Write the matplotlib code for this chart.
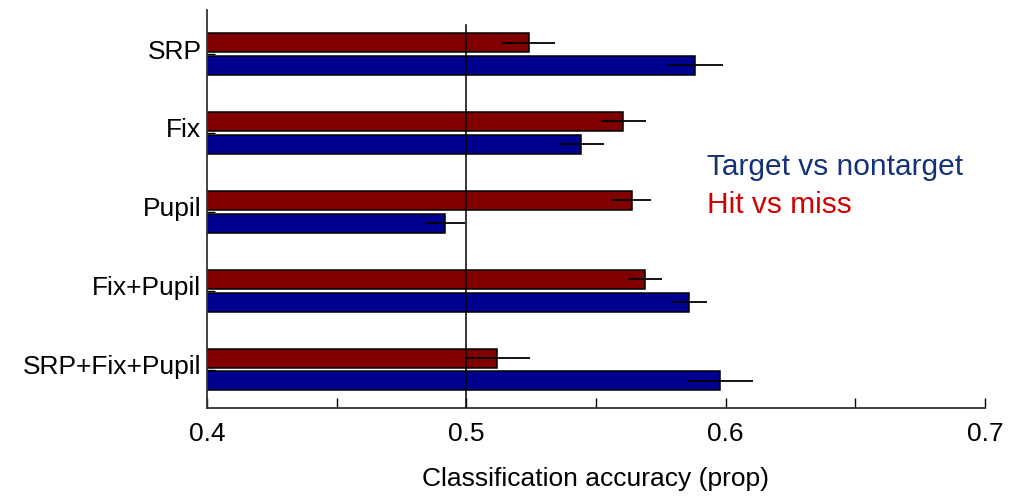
import numpy as np
import matplotlib.pyplot as plt
import matplotlib.transforms as mtransforms

plt.rcParams['font.family'] = ['Liberation Sans', 'DejaVu Sans']

categories = ['SRP', 'Fix', 'Pupil', 'Fix+Pupil', 'SRP+Fix+Pupil']
hit_vs_miss = [0.524, 0.5606, 0.5637, 0.569, 0.512]
hit_vs_miss_err = [0.0103, 0.0085, 0.0077, 0.0066, 0.0127]
target_vs_nontarget = [0.588, 0.5444, 0.4917, 0.586, 0.598]
target_vs_nontarget_err = [0.0108, 0.0086, 0.0076, 0.0068, 0.0127]

x_ticks = [0.4, 0.45, 0.5, 0.55, 0.6, 0.65, 0.7]
x_ticklabels = ['0.4', '', '0.5', '', '0.6', '', '0.7']

RED = '#800000'
BLUE = '#000090'
BAR_HEIGHT = 0.24
OFFSET = 0.145

fig = plt.figure(figsize=(10.3, 4.98), dpi=100)
ax = fig.add_axes([207 / 1030, 90 / 498, 778 / 1030, 398 / 498])

pos = np.arange(len(categories))
ax.barh(pos - OFFSET, hit_vs_miss, BAR_HEIGHT, color=RED, edgecolor='black',
        linewidth=1.1, zorder=2)
ax.barh(pos + OFFSET, target_vs_nontarget, BAR_HEIGHT, color=BLUE, edgecolor='black',
        linewidth=1.1, zorder=2)
ax.errorbar(hit_vs_miss, pos - OFFSET, xerr=hit_vs_miss_err, fmt='none',
            ecolor='black', elinewidth=1.3, capsize=0, zorder=4)
ax.errorbar(target_vs_nontarget, pos + OFFSET, xerr=target_vs_nontarget_err, fmt='none',
            ecolor='black', elinewidth=1.3, capsize=0, zorder=4)

# chance line
ax.axvline(0.5, ymin=0, ymax=0.962, color='black', linewidth=1.1, zorder=3)

ax.set_xlim(0.4, 0.7)
ax.set_ylim(4.488, -0.558)
ax.set_xticks(x_ticks)
ax.set_xticklabels(x_ticklabels)
ax.set_yticks(pos)
ax.set_yticklabels(categories)

ax.tick_params(axis='x', direction='in', length=7, width=1, labelsize=19, pad=10)
ax.tick_params(axis='y', direction='in', length=6, width=1, labelsize=19, pad=4)
# labels sit a bit above the tick
shift = mtransforms.ScaledTranslation(0, 5 / 100, fig.dpi_scale_trans)
for lab in ax.get_yticklabels():
    lab.set_transform(lab.get_transform() + shift)

ax.set_xlabel('Classification accuracy (prop)', fontsize=19, labelpad=15)

for side in ['top', 'right']:
    ax.spines[side].set_visible(False)
for side in ['left', 'bottom']:
    ax.spines[side].set_linewidth(1.3)
    ax.spines[side].set_color('#333333')

ax.text(0.643, 0.585, 'Target vs nontarget', transform=ax.transAxes,
        fontsize=21.5, color='#13327A', va='baseline', ha='left')
ax.text(0.643, 0.49, 'Hit vs miss', transform=ax.transAxes,
        fontsize=21.5, color='#D00000', va='baseline', ha='left')

fig.savefig('out.png', dpi=100)
